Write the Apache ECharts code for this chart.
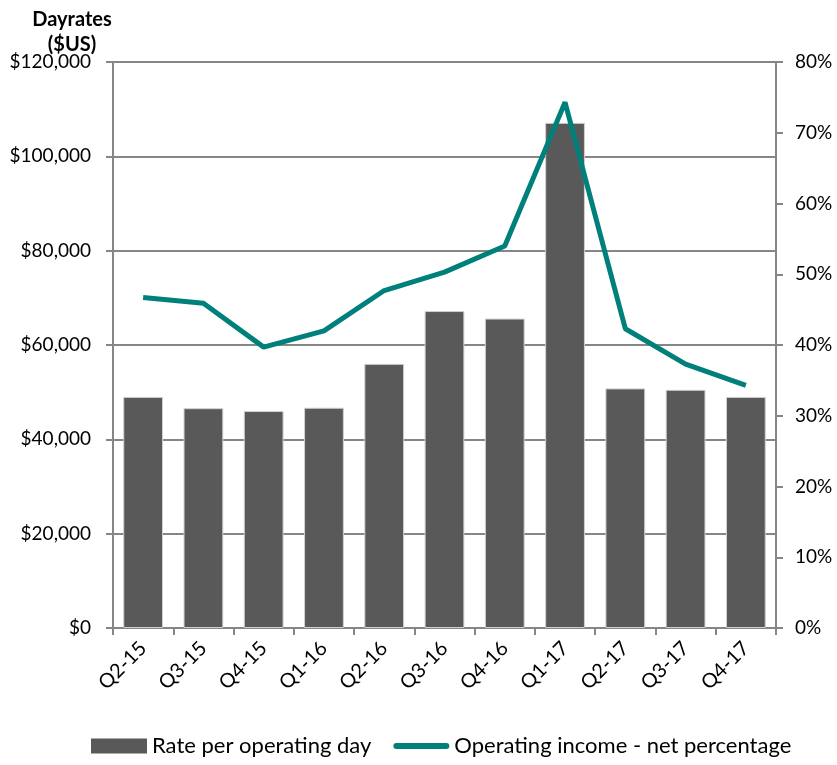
<!DOCTYPE html>
<html>
<head>
<meta charset="utf-8">
<script src="https://cdn.jsdelivr.net/npm/echarts@6/dist/echarts.min.js"></script>
<style>
  html, body { margin: 0; padding: 0; background: #fff; }
  #main { width: 837px; height: 765px; }
</style>
</head>
<body>
<div id="main"></div>
<script>
// data
var quarters = ['Q2-15', 'Q3-15', 'Q4-15', 'Q1-16', 'Q2-16', 'Q3-16', 'Q4-16', 'Q1-17', 'Q2-17', 'Q3-17', 'Q4-17'];
var dayRates = [49000, 46600, 46000, 46700, 56000, 67200, 65600, 107100, 50800, 50500, 49000];
var opIncomePct = [46.7, 45.9, 39.7, 42.0, 47.7, 50.3, 54.0, 74.3, 42.3, 37.3, 34.3];

var font = 'Lato';
var gridColor = '#868686';
var teal = '#00807a';

var myChart = echarts.init(document.getElementById('main'));
var option = {
	backgroundColor: '#fff',
	animation: false,
	textStyle: { fontFamily: font },
	title: {
		text: 'Dayrates\n($US)',
		left: 67,
		top: 2,
		textAlign: 'center',
		textStyle: { fontFamily: font, fontSize: 20, fontWeight: 'bold', color: '#000', lineHeight: 25 }
	},
	legend: {
		bottom: 3,
		left: 86,
		itemGap: 22,
		itemWidth: 56,
		itemHeight: 15,
		textStyle: { fontFamily: font, fontSize: 22, color: '#000' },
		data: [
			{ name: 'Rate per operating day', icon: 'rect', itemStyle: { borderWidth: 0 } },
			{ name: 'Operating income - net percentage', icon: 'path://M3,0 L53,0 A3,3 0 0 1 53,6 L3,6 A3,3 0 0 1 3,0 Z' }
		]
	},
	grid: { left: 113, right: 61, top: 62, bottom: 137, containLabel: false },
	xAxis: {
		type: 'category',
		data: quarters,
		boundaryGap: true,
		axisLine: { lineStyle: { color: gridColor, width: 2 } },
		axisTick: { show: true, length: 7, alignWithLabel: false, lineStyle: { color: gridColor, width: 2 } },
		axisLabel: { rotate: 45, fontSize: 20, color: '#000', margin: 17, fontFamily: font }
	},
	yAxis: [
		{
			type: 'value',
			min: 0,
			max: 120000,
			interval: 20000,
			axisLine: { show: true, lineStyle: { color: gridColor, width: 2 } },
			axisTick: { show: true, length: 7, lineStyle: { color: gridColor, width: 2 } },
			splitLine: { show: true, lineStyle: { color: gridColor, width: 2 } },
			axisLabel: {
				fontSize: 19, color: '#000', margin: 22, fontFamily: font,
				formatter: function (v) { return '$' + v.toLocaleString('en-US'); }
			}
		},
		{
			type: 'value',
			min: 0,
			max: 80,
			interval: 10,
			position: 'right',
			axisLine: { show: true, lineStyle: { color: gridColor, width: 2 } },
			axisTick: { show: true, length: 7, lineStyle: { color: gridColor, width: 2 } },
			splitLine: { show: false },
			axisLabel: { fontSize: 19, color: '#000', margin: 19, fontFamily: font, formatter: '{value}%' }
		}
	],
	series: [
		{
			name: 'Rate per operating day',
			type: 'bar',
			yAxisIndex: 0,
			data: dayRates,
			barWidth: '66%',
			itemStyle: { color: '#595959', borderColor: '#d0d0d0', borderWidth: 1 }
		},
		{
			name: 'Operating income - net percentage',
			type: 'line',
			yAxisIndex: 1,
			data: opIncomePct,
			symbol: 'none',
			lineStyle: { color: teal, width: 5 },
			itemStyle: { color: teal }
		}
	]
};
myChart.setOption(option);
</script>
</body>
</html>
